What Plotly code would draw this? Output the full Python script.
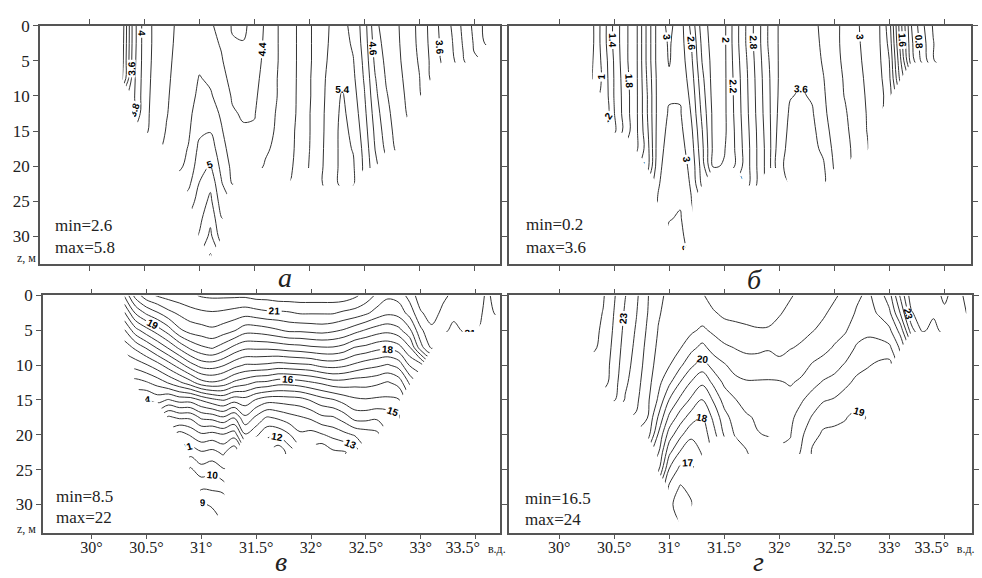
import plotly.graph_objects as go

# ---- grid: stations (longitude, deg E) and depth levels (m) ----
lon = [30.3, 30.4, 30.5, 30.6, 30.7, 30.8, 30.9, 31.0, 31.1, 31.2, 31.3, 31.4,
       31.5, 31.6, 31.7, 31.8, 31.9, 32.0, 32.1, 32.2, 32.3, 32.4, 32.5, 32.6,
       32.7, 32.8, 32.9, 33.0, 33.1, 33.2, 33.3, 33.4, 33.5, 33.6, 33.7]
depth = [0, 2.5, 5, 7.5, 10, 12.5, 15, 17.5, 20, 22.5, 25, 27.5, 30, 32.5, 35]
bottom_depth = [7.5, 12.5, 15, 15, 17.5, 20, 25, 30, 35, 30, 22.5, 20, 20, 20, 22.5,
                22.5, 20, 20, 22.5, 22.5, 22.5, 22.5, 20, 20, 17.5, 17.5, 12.5, 10,
                7.5, 5, 5, 5, 5, 2.5, 2.5]

# ---- panel а : value profiles per station (top -> bottom) ----
profiles_a = [
    [2.9, 2.92, 2.94, 2.96],
    [3.7, 3.7, 3.72, 3.74, 3.76, 3.79],
    [4.1, 4.1, 4.1, 4.11, 4.12, 4.13, 4.15],
    [4.25, 4.25, 4.26, 4.27, 4.28, 4.29, 4.3],
    [4.35, 4.35, 4.36, 4.37, 4.38, 4.39, 4.41, 4.43],
    [4.42, 4.43, 4.44, 4.45, 4.46, 4.47, 4.49, 4.52, 4.55],
    [4.48, 4.49, 4.5, 4.51, 4.53, 4.55, 4.57, 4.61, 4.65, 4.75, 4.9],
    [4.5, 4.52, 4.56, 4.61, 4.64, 4.7, 4.76, 4.85, 4.92, 5.01, 5.08, 5.15, 5.22],
    [4.42, 4.46, 4.52, 4.57, 4.62, 4.7, 4.79, 4.9, 5.02, 5.15, 5.25, 5.35, 5.45, 5.61, 5.79],
    [4.35, 4.38, 4.42, 4.47, 4.52, 4.57, 4.62, 4.68, 4.74, 4.82, 4.9, 5.01, 5.1],
    [4.18, 4.22, 4.28, 4.33, 4.38, 4.42, 4.46, 4.5, 4.55, 4.59],
    [4.15, 4.21, 4.26, 4.3, 4.34, 4.38, 4.42, 4.46, 4.5],
    [4.3, 4.31, 4.33, 4.35, 4.37, 4.39, 4.42, 4.47, 4.52],
    [4.42, 4.43, 4.44, 4.46, 4.48, 4.5, 4.53, 4.57, 4.62],
    [4.58, 4.58, 4.58, 4.59, 4.59, 4.61, 4.62, 4.64, 4.66, 4.68],
    [4.7, 4.7, 4.7, 4.71, 4.72, 4.73, 4.74, 4.75, 4.76, 4.77],
    [4.82, 4.82, 4.82, 4.82, 4.82, 4.82, 4.83, 4.83, 4.84],
    [4.97, 4.97, 4.97, 4.98, 4.98, 4.99, 4.99, 4.995, 5.01],
    [5.12, 5.12, 5.12, 5.13, 5.13, 5.14, 5.14, 5.15, 5.16, 5.17],
    [5.22, 5.23, 5.25, 5.28, 5.3, 5.31, 5.32, 5.32, 5.32, 5.32],
    [5.25, 5.28, 5.33, 5.38, 5.42, 5.44, 5.45, 5.45, 5.45, 5.45],
    [5.15, 5.17, 5.21, 5.24, 5.28, 5.32, 5.36, 5.39, 5.42, 5.43],
    [4.9, 4.92, 4.95, 4.98, 5.02, 5.06, 5.1, 5.14, 5.16],
    [4.45, 4.5, 4.55, 4.61, 4.65, 4.7, 4.75, 4.79, 4.85],
    [4.3, 4.32, 4.35, 4.38, 4.42, 4.46, 4.5, 4.55],
    [4.22, 4.23, 4.24, 4.26, 4.28, 4.3, 4.32, 4.35],
    [4.1, 4.1, 4.12, 4.14, 4.16, 4.18],
    [3.95, 3.96, 3.98, 4.01, 4.02],
    [3.75, 3.76, 3.78, 3.79],
    [3.55, 3.57, 3.59],
    [3.38, 3.41, 3.45],
    [3.15, 3.18, 3.22],
    [2.95, 2.98, 3.02],
    [2.75, 2.79],
    [2.65, 2.7],
]

# ---- panel б ----
profiles_b = [
    [0.75, 0.75, 0.78, 0.79],
    [1.1, 1.1, 1.06, 1.04, 1.02, 1.01],
    [1.45, 1.45, 1.42, 1.41, 1.41, 1.39, 1.35],
    [1.75, 1.75, 1.75, 1.72, 1.7, 1.7, 1.68],
    [1.95, 1.95, 1.95, 1.95, 1.95, 1.95, 1.95, 1.95],
    [2.45, 2.45, 2.45, 2.42, 2.39, 2.39, 2.35, 2.3, 2.3],
    [2.9, 2.9, 2.9, 2.88, 2.88, 2.88, 2.9, 2.92, 2.95, 2.98, 3.02],
    [3.05, 3.02, 3.01, 2.98, 2.98, 3.02, 3.05, 3.08, 3.1, 3.12, 3.15, 3.19, 3.25],
    [2.9, 2.9, 2.92, 2.95, 2.98, 3.02, 3.05, 3.08, 3.1, 3.12, 3.18, 3.22, 3.25, 3.28, 3.3],
    [2.55, 2.61, 2.65, 2.7, 2.75, 2.79, 2.85, 2.9, 2.95, 2.98, 3.01, 3.05, 3.1],
    [2.1, 2.15, 2.19, 2.25, 2.3, 2.35, 2.41, 2.45, 2.5, 2.55],
    [1.9, 1.9, 1.92, 1.92, 1.93, 1.95, 1.95, 1.96, 1.97],
    [1.95, 1.95, 1.95, 1.95, 1.95, 1.95, 1.95, 1.98, 2.02],
    [2.3, 2.3, 2.28, 2.26, 2.25, 2.24, 2.22, 2.21, 2.21],
    [2.61, 2.61, 2.58, 2.56, 2.55, 2.54, 2.52, 2.5, 2.5, 2.5],
    [2.9, 2.9, 2.88, 2.86, 2.85, 2.84, 2.82, 2.81, 2.81, 2.81],
    [3.21, 3.21, 3.18, 3.16, 3.15, 3.14, 3.12, 3.1, 3.1],
    [3.42, 3.42, 3.42, 3.42, 3.43, 3.45, 3.48, 3.52, 3.56],
    [3.5, 3.5, 3.52, 3.55, 3.59, 3.63, 3.65, 3.66, 3.66, 3.66],
    [3.5, 3.52, 3.55, 3.58, 3.62, 3.65, 3.66, 3.66, 3.66, 3.66],
    [3.46, 3.48, 3.5, 3.54, 3.58, 3.62, 3.65, 3.66, 3.66, 3.66],
    [3.35, 3.36, 3.38, 3.41, 3.43, 3.45, 3.5, 3.56, 3.63, 3.65],
    [3.25, 3.25, 3.26, 3.27, 3.28, 3.3, 3.32, 3.35, 3.38],
    [3.15, 3.15, 3.16, 3.18, 3.19, 3.22, 3.24, 3.26, 3.28],
    [3.02, 3.03, 3.04, 3.06, 3.08, 3.1, 3.12, 3.14],
    [2.95, 2.95, 2.96, 2.97, 2.98, 2.99, 2.995, 3.02],
    [2.85, 2.85, 2.86, 2.88, 2.9, 2.92],
    [2.5, 2.55, 2.61, 2.65, 2.7],
    [1.7, 1.75, 1.85, 1.95],
    [1.01, 1.05, 1.1],
    [0.65, 0.7, 0.75],
    [0.38, 0.41, 0.42],
    [0.25, 0.25, 0.26],
    [0.22, 0.22],
    [0.21, 0.21],
]

# ---- panel в ----
profiles_v = [
    [19.05, 17.95, 16.95, 16.2],
    [20.2, 19.05, 17.8, 16.6, 15.7, 14.8],
    [20.8, 19.6, 18.3, 17.05, 15.95, 14.95, 13.95],
    [21.05, 19.95, 18.75, 17.55, 16.3, 15.2, 14.2],
    [21.2, 20.35, 19.25, 18.05, 16.75, 15.55, 13.95, 12.4],
    [21.3, 20.6, 19.9, 18.6, 17.25, 15.9, 14.2, 12.6, 11.25],
    [21.4, 20.8, 20.2, 19.1, 17.8, 16.3, 14.2, 12.6, 11.55, 10.7, 9.9],
    [21.55, 20.9, 20.3, 19.4, 18.2, 16.8, 14.55, 13.1, 11.9, 10.95, 10.3, 9.6, 8.9],
    [21.6, 20.95, 20.4, 19.55, 18.25, 16.95, 14.85, 13.2, 11.8, 10.85, 10.15, 9.6, 9.1, 8.6, 8.52],
    [21.6, 20.9, 20.25, 19.25, 18.05, 16.8, 15.05, 13.45, 11.95, 11.1, 10.45, 9.75, 9.05],
    [21.6, 20.8, 20.05, 18.85, 17.7, 16.4, 14.7, 13.05, 11.7, 10.6],
    [21.6, 20.7, 19.7, 18.6, 17.45, 16.2, 14.8, 13.9, 12.95],
    [21.7, 20.8, 19.7, 18.6, 17.45, 15.95, 14.45, 13.4, 12.6],
    [21.7, 20.9, 19.8, 18.6, 17.4, 15.9, 14.2, 12.95, 12.1],
    [21.8, 20.9, 19.95, 18.66, 17.3, 15.7, 14.2, 13.1, 12.1, 11.1],
    [21.8, 20.95, 20.1, 18.75, 17.35, 15.7, 14.25, 13.3, 12.45, 11.7],
    [21.8, 21.05, 20.1, 18.8, 17.4, 15.8, 14.3, 13.45, 12.9],
    [21.8, 21.05, 20.15, 18.9, 17.45, 15.95, 14.55, 13.6, 12.8],
    [21.8, 21.05, 20.2, 18.95, 17.65, 16.1, 14.8, 13.9, 12.95, 12.05],
    [21.8, 21.05, 20.1, 18.95, 17.7, 16.3, 14.95, 13.95, 13.15, 12.4],
    [21.8, 20.9, 19.95, 18.8, 17.6, 16.3, 15.2, 14.25, 13.35, 12.45],
    [21.6, 20.8, 19.7, 18.45, 17.4, 16.2, 15.4, 14.7, 13.55, 12.7],
    [21.3, 20.6, 19.45, 18.35, 17.2, 16.2, 15.45, 14.7, 13.7],
    [20.9, 20.3, 19.25, 18.15, 17.1, 16.1, 15.4, 14.6, 13.85],
    [20.6, 20.1, 19.15, 18.1, 16.95, 15.95, 15.4, 14.7],
    [20.7, 20.2, 19.35, 18.3, 17.2, 16.2, 15.45, 14.9],
    [21.2, 20.7, 19.9, 18.95, 18.05, 17.1],
    [21.8, 21.45, 20.9, 20.3, 18.3],
    [21.9, 21.7, 21.4, 21.1],
    [21.6, 21.4, 21.2],
    [21.4, 21.2, 20.8],
    [21.45, 21.3, 21.1],
    [21.4, 21.3, 21.1],
    [20.9, 20.8],
    [21.2, 21.1],
]

# ---- panel г ----
profiles_g = [
    [24.2, 24.2, 24.15, 24.1],
    [24.05, 23.98, 23.92, 23.86, 23.8, 23.74],
    [23.55, 23.48, 23.42, 23.35, 23.27, 23.2, 23.05],
    [23.02, 22.93, 22.85, 22.77, 22.7, 22.6, 22.45],
    [22.6, 22.53, 22.45, 22.38, 22.3, 22.2, 22.1, 21.95],
    [22.05, 22.02, 21.94, 21.85, 21.78, 21.7, 21.62, 21.52, 21.3],
    [21.6, 21.55, 21.48, 21.4, 21.3, 21.15, 20.93, 20.45, 19.95, 19.55, 19.1],
    [21.4, 21.33, 21.22, 21.12, 21.03, 20.6, 19.98, 19.38, 18.75, 18.12, 17.45, 16.9, 16.55],
    [21.3, 21.2, 21.1, 21.03, 20.6, 19.98, 19.38, 18.75, 18.12, 17.45, 16.85, 16.45, 16.4, 16.4, 16.4],
    [21.35, 21.25, 21.1, 20.65, 20.1, 19.45, 18.9, 18.25, 17.6, 17.2, 16.85, 16.65, 16.45],
    [21.45, 21.3, 20.9, 20.35, 19.75, 19.1, 18.45, 17.95, 17.7, 17.55],
    [21.7, 21.45, 21.1, 20.7, 20.2, 19.6, 19.05, 18.6, 18.3],
    [21.8, 21.6, 21.3, 20.9, 20.45, 20.1, 19.7, 19.3, 19.05],
    [21.85, 21.65, 21.35, 21.02, 20.7, 20.35, 19.98, 19.75, 19.55],
    [21.9, 21.7, 21.4, 21.1, 20.8, 20.45, 20.15, 19.95, 19.75, 19.45],
    [21.9, 21.75, 21.45, 21.1, 20.8, 20.45, 20.2, 20.05, 19.98, 19.9],
    [21.85, 21.7, 21.45, 21.05, 20.75, 20.45, 20.15, 20.05, 20.02],
    [21.75, 21.55, 21.3, 21.1, 20.9, 20.45, 20.3, 20.2, 20.15],
    [21.55, 21.35, 21.2, 21.02, 20.8, 20.55, 20.3, 20.1, 20.02, 19.9],
    [21.35, 21.25, 21.1, 20.95, 20.7, 20.4, 20.05, 19.8, 19.6, 19.45],
    [21.25, 21.15, 21.02, 20.8, 20.45, 20.15, 19.8, 19.45, 19.1, 18.95],
    [21.15, 21.05, 20.9, 20.65, 20.3, 19.95, 19.55, 19.1, 18.95, 18.9],
    [21.05, 20.9, 20.7, 20.45, 20.15, 19.85, 19.45, 19.1, 18.9],
    [20.9, 20.75, 20.55, 20.25, 19.95, 19.6, 19.3, 19.02, 18.9],
    [20.6, 20.45, 20.2, 19.95, 19.65, 19.4, 19.15, 18.9],
    [20.4, 20.3, 20.1, 19.85, 19.55, 19.25, 19.1, 19.02],
    [20.7, 20.55, 20.2, 19.8, 19.4, 19.1],
    [21.3, 20.9, 20.4, 19.9, 19.3],
    [22.6, 22.05, 21.2, 20.6],
    [23.8, 23.45, 22.8],
    [23.9, 23.8, 23.6],
    [23.9, 23.6, 23.3],
    [24.05, 23.95, 23.7],
    [23.9, 23.8],
    [24.05, 24.02],
]

panel_letters = ["а", "б", "в", "г"]
min_max_texts = [("min=2.6", "max=5.8"), ("min=0.2", "max=3.6"),
                 ("min=8.5", "max=22"), ("min=16.5", "max=24")]
# (start, end, step, labelled) contour level sets per panel
contour_sets = [
    [(2.6, 5.8, 0.2, True)],
    [(0.2, 3.6, 0.2, True)],
    [(9, 22, 1, True), (9.5, 21.5, 1, False)],
    [(17, 24, 1, True), (16.5, 23.5, 1, False)],
]
lon_ticks = [30, 30.5, 31, 31.5, 32, 32.5, 33, 33.5]
lon_tick_text = ["30°", "30.5°", "31°", "31.5°", "32°", "32.5°", "33°",
                 "33.5°&nbsp;&nbsp;<span style='font-size:12px'>в.д.</span>"]
depth_ticks = [0, 5, 10, 15, 20, 25, 30]

W, H = 982, 578


def build_grid(profiles):
    z = []
    for j, d in enumerate(depth):
        row = []
        for i in range(len(lon)):
            col = profiles[i]
            if j < len(col) and d <= bottom_depth[i]:
                row.append(col[j])
            else:
                row.append(None)
        z.append(row)
    return z


# panel frames in pixels: (left, right, top, bottom, lon at left, lon at right, depth at bottom)
frames = [
    (40, 503, 17, 259, 29.548, 33.739, 33.93),
    (512, 976, 17, 259, 29.548, 33.744, 33.93),
    (43, 503, 291, 532, 29.556, 33.726, 34.05),
    (512, 977, 291, 532, 29.548, 33.750, 34.05),
]

fig = go.Figure()
all_profiles = [profiles_a, profiles_b, profiles_v, profiles_g]
serif = "Liberation Serif, Times New Roman, serif"

for k in range(4):
    xa = "x" if k == 0 else "x%d" % (k + 1)
    ya = "y" if k == 0 else "y%d" % (k + 1)
    grid = build_grid(all_profiles[k])
    for s, e, step, lab in contour_sets[k]:
        fig.add_trace(go.Contour(
            x=lon, y=depth, z=grid,
            xaxis=xa, yaxis=ya,
            autocontour=False,
            contours=dict(start=s, end=e, size=step, coloring="none",
                          showlabels=lab,
                          labelfont=dict(family="Arial, Liberation Sans, sans-serif",
                                         size=10, color="#000", weight="bold")),
            line=dict(color="#333333", width=1, smoothing=1),
            showscale=False, connectgaps=False, hoverinfo="skip",
        ))

    l, r, t, b, x0, x1, ymax = frames[k]
    bottom_row = k >= 2
    left_col = k % 2 == 0
    axis_common = dict(showline=True, linecolor="#555555", linewidth=1.5,
                       mirror="ticks", ticks="outside", ticklen=5,
                       tickcolor="#555555", tickwidth=1,
                       showgrid=False, zeroline=False)
    xname = "xaxis" if k == 0 else "xaxis%d" % (k + 1)
    yname = "yaxis" if k == 0 else "yaxis%d" % (k + 1)
    fig.layout[xname] = dict(
        domain=[l / W, r / W], range=[x0, x1], anchor=ya,
        tickvals=lon_ticks, ticktext=lon_tick_text,
        showticklabels=bottom_row, ticklabelstandoff=-6,
        tickfont=dict(family=serif, size=16, color="#222"),
        **axis_common)
    fig.layout[yname] = dict(
        domain=[1 - b / H, 1 - t / H], range=[ymax, 0], anchor=xa,
        tickvals=depth_ticks, showticklabels=left_col,
        tickfont=dict(family=serif, size=17, color="#222"),
        **axis_common)

annotations = []
# min / max notes
mm_pos = [(53, 220, 242), (527, 219, 242), (54, 495, 517), (526, 497, 519)]
for k in range(4):
    px, py1, py2 = mm_pos[k]
    for txt, py in zip(min_max_texts[k], (py1, py2)):
        annotations.append(dict(text=txt, x=px / W, y=1 - py / H, xref="paper", yref="paper",
                                xanchor="left", yanchor="middle", showarrow=False,
                                font=dict(family=serif, size=17, color="#222")))
# panel letters (bottom edge of text box in px)
letter_pos = [(286, 290), (758, 292), (282, 578), (762, 578)]
for k in range(4):
    px, py = letter_pos[k]
    annotations.append(dict(text="<i>%s</i>" % panel_letters[k], x=px / W, y=1 - py / H,
                            xref="paper", yref="paper", xanchor="center", yanchor="bottom",
                            showarrow=False, borderpad=0,
                            font=dict(family=serif, size=28, color="#222")))
# depth axis label
for py in (253, 528):
    annotations.append(dict(text="z, м", x=15 / W, y=1 - py / H, xref="paper", yref="paper",
                            xanchor="left", yanchor="middle", showarrow=False,
                            font=dict(family=serif, size=12, color="#222")))

fig.update_layout(width=W, height=H, margin=dict(l=0, r=0, t=0, b=0),
                  paper_bgcolor="white", plot_bgcolor="white",
                  showlegend=False, annotations=annotations)

fig.write_html("out.html", config={"displayModeBar": False},
               post_script="document.body.style.margin='0';document.body.style.overflow='hidden';")
